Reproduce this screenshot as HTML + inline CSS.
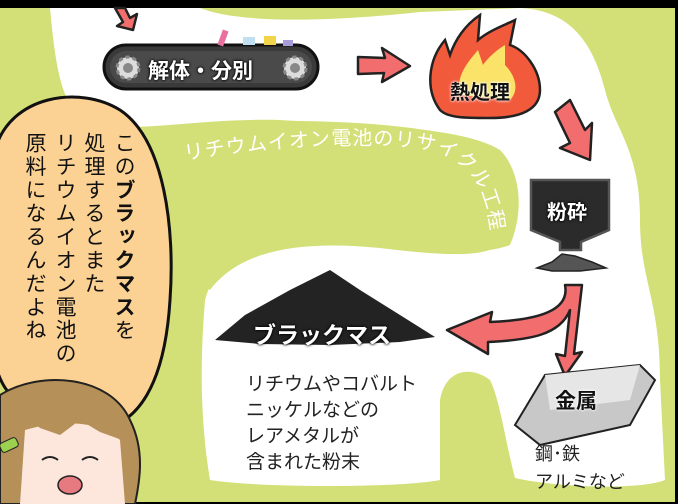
<!DOCTYPE html>
<html><head><meta charset="utf-8"><style>
html,body{margin:0;padding:0;width:678px;height:504px;overflow:hidden;background:#000}
#c{position:relative;width:678px;height:504px;font-family:"Liberation Sans","Noto Sans CJK JP",sans-serif}
.v{position:absolute;writing-mode:vertical-rl;font-size:21px;line-height:1;letter-spacing:2.4px;color:#111}
.lbl{position:absolute;color:#fff;font-weight:bold;text-shadow:0 0 2px #000,0 0 3px #000}
.t{position:absolute;font-size:19px;color:#222;line-height:26px}
</style></head><body><div id="c">
<svg width="678" height="504" style="position:absolute;left:0;top:0">
<rect x="0" y="8" width="675" height="494" fill="#d3e077"/>
<path d="M50,8 L200,8 C230,20 300,25 420,12 L520,8 C560,10 590,30 605,90 C615,130 640,150 640,220 C640,280 660,300 660,380 L665,480 C640,490 560,488 515,478 C505,440 500,400 490,380 C470,365 445,370 440,400 L440,480 C400,488 260,488 210,480 C200,420 200,360 205,300 C215,260 260,240 330,245 C400,245 470,260 510,245 C525,210 520,170 500,150 C460,125 350,125 280,120 C200,118 150,132 90,125 C60,110 55,60 50,8 Z" fill="#fff"/>
<path d="M170,125 C260,118 400,118 470,140 C505,160 515,200 505,240 C490,260 440,255 380,248 C300,240 240,250 210,290 C180,260 170,200 170,125 Z" fill="#d3e077"/>
<path id="tp" d="M185,160 C280,145 380,140 430,150 C470,160 490,190 492,250" fill="none"/>
<text font-size="20" fill="#fff" font-family="Liberation Sans, Noto Sans CJK JP, sans-serif" letter-spacing="1"><textPath href="#tp">リチウムイオン電池のリサイクル工程</textPath></text>
<path d="M-5,150 C10,95 80,85 120,110 C165,140 175,230 170,300 C165,380 140,430 90,430 C40,428 0,400 -5,360 Z" fill="#fbd293" stroke="#111" stroke-width="3"/>
<rect x="104" y="45" width="214" height="44" rx="22" fill="#3a3a3a" stroke="#111" stroke-width="3"/>
<rect x="110" y="51" width="202" height="32" rx="16" fill="#4a4a4a"/>
<circle cx="128" cy="68" r="11" fill="#ddd" stroke="#888" stroke-width="3" stroke-dasharray="4 3"/><circle cx="128" cy="68" r="5" fill="#888"/>
<circle cx="295" cy="68" r="11" fill="#ddd" stroke="#888" stroke-width="3" stroke-dasharray="4 3"/><circle cx="295" cy="68" r="5" fill="#888"/>
<rect x="220" y="30" width="6" height="16" fill="#e86fa0" transform="rotate(20 223 38)"/>
<rect x="243" y="37" width="12" height="8" fill="#bfe0f0"/><rect x="264" y="36" width="12" height="9" fill="#f2d44a"/><rect x="283" y="40" width="10" height="6" fill="#a79bd8"/>
<g fill="#f26e6e" stroke="#222" stroke-width="2.5" stroke-linejoin="round">
<path d="M115,8 L125,8 L130,18 L137,14 L133,30 L117,26 L123,22 Z"/>
<path d="M358,57 L385,58 L382,48 L410,66 L382,82 L384,73 L358,74 Z"/>
<path d="M555,112 L570,100 L585,130 L592,123 L590,160 L560,148 L570,143 Z"/>
<path d="M565,285 C570,310 540,320 490,322 L492,312 L447,330 L488,354 L488,342 C530,340 560,335 570,310 L565,356 L556,354 L565,376 L582,352 L574,354 L582,285 Z"/>
</g>
<path d="M440,110 C425,90 428,60 445,40 L450,55 C455,40 465,25 480,15 L478,40 C490,30 505,25 515,20 L510,45 C525,50 540,70 540,90 C540,110 520,118 490,118 C465,118 448,118 440,110 Z" fill="#f25a3c" stroke="#222" stroke-width="2.5"/>
<path d="M460,95 C455,75 470,60 478,50 L483,65 C490,55 500,48 505,45 L505,65 C515,75 520,90 510,100 Z" fill="#fbe36a"/>
<path d="M531,180 L609,180 L609,230 L581,242 L581,250 L560,250 L560,242 L531,230 Z" fill="#2b2b2b" stroke="#555" stroke-width="2.5"/>
<path d="M537,268 L552,262 L562,254 L575,256 L592,262 L606,268 L580,271 L552,271 Z" fill="#555" stroke="#222" stroke-width="1.5"/>
<path d="M215,340 L245,315 L290,290 L330,270 L360,290 L400,315 L435,337 L400,342 L330,345 L260,344 Z" fill="#232323"/>
<path d="M515,425 L545,375 L640,365 L655,380 L630,425 L540,445 Z" fill="#c8c8c8" stroke="#222" stroke-width="2"/>
<path d="M545,375 L640,365 L630,400 L550,410 Z" fill="#e6e6e6"/>
<path d="M0,395 C40,370 110,375 130,420 C145,450 140,480 135,504 L0,504 Z" fill="#b59058" stroke="#222" stroke-width="2"/>
<path d="M25,430 C60,420 100,420 120,440 L125,504 L20,504 Z" fill="#fde6dc"/>
<path d="M30,420 C50,405 100,405 122,440 L100,432 L80,420 L60,435 L40,428 Z" fill="#b59058"/>
<ellipse cx="70" cy="485" rx="12" ry="9" fill="#e77a80" stroke="#222" stroke-width="1.5"/>
<path d="M42,460 q8,-6 16,0 M82,460 q8,-6 16,0" stroke="#222" stroke-width="2" fill="none"/>
<rect x="0" y="440" width="18" height="10" rx="3" fill="#9bd14e" stroke="#222" transform="rotate(-25 9 445)"/>
<rect x="675" y="0" width="3" height="504" fill="#000"/>
</svg>
<div class="lbl" style="left:148px;top:55px;font-size:21px">解体・分別</div>
<div class="lbl" style="left:450px;top:76px;font-size:20px;color:#111;text-shadow:0 0 2px #fff,0 0 3px #fff">熱処理</div>
<div class="lbl" style="left:547px;top:196px;font-size:20px">粉砕</div>
<div class="lbl" style="left:253px;top:316px;font-size:23px">ブラックマス</div>
<div class="lbl" style="left:555px;top:385px;font-size:21px;color:#111;text-shadow:0 0 2px #fff,0 0 3px #fff">金属</div>
<div class="v" style="left:113px;top:132px">この<b>ブラックマス</b>を</div>
<div class="v" style="left:83px;top:132px">処理するとまた</div>
<div class="v" style="left:54px;top:132px">リチウムイオン電池の</div>
<div class="v" style="left:24px;top:132px">原料になるんだよね</div>
<div class="t" style="left:246px;top:372px">リチウムやコバルト<br>ニッケルなどの<br>レアメタルが<br>含まれた粉末</div>
<div class="t" style="left:535px;top:440px;line-height:28px;font-size:18px">鋼･鉄<br>アルミなど</div>
</div></body></html>
